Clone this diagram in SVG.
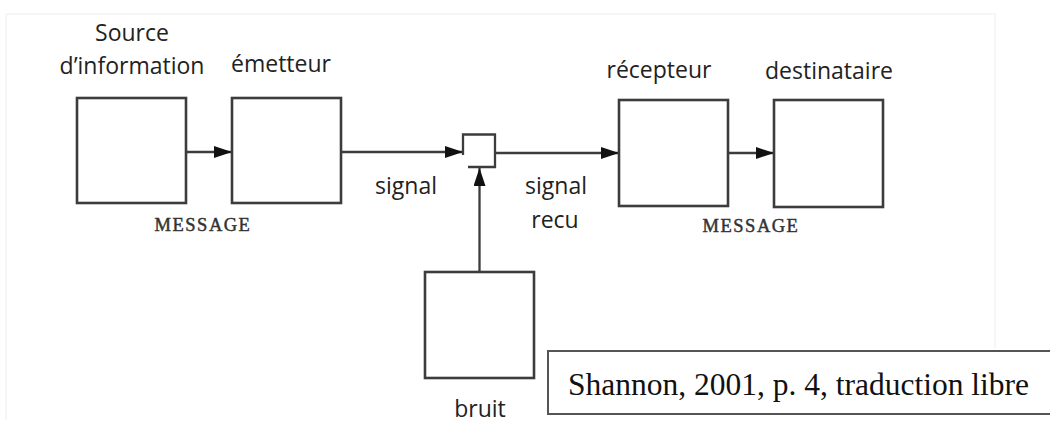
<svg xmlns="http://www.w3.org/2000/svg" width="1050" height="422" viewBox="0 0 1050 422">
  <style>
    .box { fill: #ffffff; stroke: #3c3c3c; stroke-width: 2.6; }
    .wire { fill: none; stroke: #3c3c3c; stroke-width: 2.3; }
    .lbl { font-family: "Open Sans", "Liberation Sans", sans-serif; font-size: 23px; fill: #222; text-anchor: middle; }
    .msg { font-family: "Liberation Serif", "Times New Roman", serif; font-size: 18.5px; letter-spacing: 1.5px; fill: #333; stroke: #333; stroke-width: 0.45; text-anchor: middle; }
    .cite { font-family: "Liberation Serif", "Times New Roman", serif; font-size: 31.5px; fill: #111; }
    .edge { fill: none; stroke: #f3f3f3; stroke-width: 1.5; }
  </style>
  <defs>
    <marker id="arrow" viewBox="0 0 18 12" refX="18" refY="6" markerWidth="18" markerHeight="12" markerUnits="userSpaceOnUse" orient="auto">
      <path d="M0,0 L18,6 L0,12 Z" fill="#111"/>
    </marker>
  </defs>

  <rect width="1050" height="422" fill="#ffffff"/>
  <!-- faint outline of the pasted figure -->
  <path class="edge" d="M6,14 H995 V348 M6,14 V420"/>

  <!-- connectors -->
  <g id="connectors">
    <line class="wire" x1="186" y1="152" x2="232" y2="152" marker-end="url(#arrow)"/>
    <line class="wire" x1="341" y1="152" x2="463" y2="152" marker-end="url(#arrow)"/>
    <line class="wire" x1="495" y1="153" x2="619" y2="153" marker-end="url(#arrow)"/>
    <line class="wire" x1="728" y1="153" x2="774" y2="153" marker-end="url(#arrow)"/>
    <line class="wire" x1="479.5" y1="272" x2="479.5" y2="168" marker-end="url(#arrow)"/>
  </g>

  <!-- noise injection point -->
  <g id="mixer">
    <path class="wire" d="M463,155 V134.5 H495 V167 H468"/>
  </g>

  <g id="source">
    <rect class="box" x="77" y="98" width="109" height="105"/>
    <text class="lbl" x="132" y="41">Source</text>
    <text class="lbl" x="132" y="74">d’information</text>
  </g>

  <g id="emetteur">
    <rect class="box" x="232" y="98" width="109" height="105"/>
    <text class="lbl" x="281" y="72">émetteur</text>
  </g>

  <g id="recepteur">
    <rect class="box" x="619" y="100" width="109" height="106"/>
    <text class="lbl" x="659" y="78">récepteur</text>
  </g>

  <g id="destinataire">
    <rect class="box" x="774" y="100" width="109" height="107"/>
    <text class="lbl" x="829" y="79">destinataire</text>
  </g>

  <g id="bruit">
    <rect class="box" x="425" y="272" width="109" height="106"/>
    <text class="lbl" x="480" y="417">bruit</text>
  </g>

  <!-- channel labels -->
  <g id="labels">
    <text class="msg" x="203" y="231">MESSAGE</text>
    <text class="msg" x="751" y="232">MESSAGE</text>
    <text class="lbl" x="406" y="194">signal</text>
    <text class="lbl" x="556" y="194">signal</text>
    <text class="lbl" x="555" y="228">recu</text>
  </g>

  <g id="citation">
    <rect x="548" y="351" width="520" height="63" fill="#ffffff" stroke="#555" stroke-width="2"/>
    <text class="cite" x="568" y="395">Shannon, 2001, p. 4, traduction libre</text>
  </g>
</svg>
